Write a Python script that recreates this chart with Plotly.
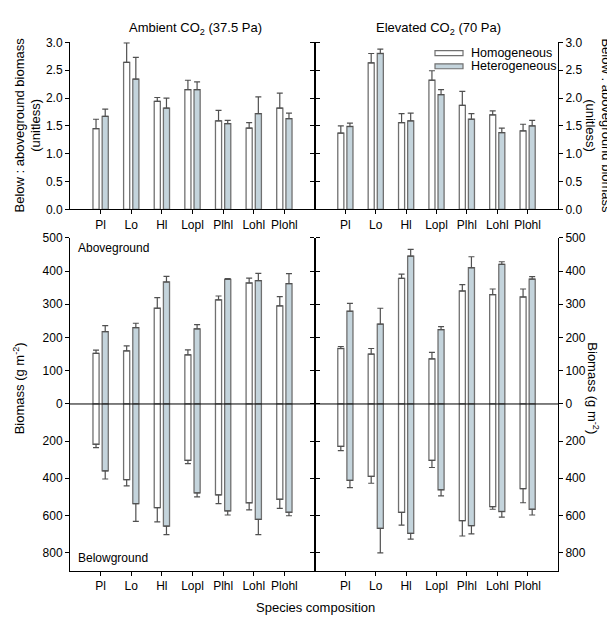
import plotly.graph_objects as go

species = ["Pl", "Lo", "Hl", "Lopl", "Plhl", "Lohl", "Plohl"]

# below:aboveground ratio (mean, top of error bar)
ratio_amb_hom = [1.45, 2.64, 1.94, 2.15, 1.59, 1.46, 1.82]
ratio_amb_hom_err = [1.62, 2.99, 2.01, 2.32, 1.78, 1.56, 2.09]
ratio_amb_het = [1.67, 2.34, 1.82, 2.15, 1.54, 1.72, 1.63]
ratio_amb_het_err = [1.80, 2.73, 2.00, 2.29, 1.60, 2.02, 1.73]
ratio_elv_hom = [1.37, 2.63, 1.56, 2.32, 1.87, 1.70, 1.41]
ratio_elv_hom_err = [1.50, 2.80, 1.72, 2.49, 2.12, 1.77, 1.53]
ratio_elv_het = [1.49, 2.80, 1.59, 2.06, 1.62, 1.38, 1.50]
ratio_elv_het_err = [1.55, 2.88, 1.73, 2.15, 1.72, 1.46, 1.60]

# aboveground biomass (g m-2)
above_amb_hom = [152, 160, 288, 148, 313, 364, 295]
above_amb_hom_err = [162, 175, 320, 163, 325, 379, 323]
above_amb_het = [218, 230, 367, 226, 375, 371, 362]
above_amb_het_err = [236, 243, 384, 239, 377, 393, 392]
above_elv_hom = [167, 150, 378, 136, 340, 329, 322]
above_elv_hom_err = [173, 167, 391, 155, 359, 346, 346]
above_elv_het = [279, 240, 445, 224, 410, 420, 376]
above_elv_het_err = [303, 288, 465, 233, 443, 428, 383]

# belowground biomass (g m-2)
below_amb_hom = [217, 407, 558, 304, 490, 532, 513]
below_amb_hom_err = [235, 441, 635, 321, 537, 570, 562]
below_amb_het = [360, 537, 658, 479, 576, 621, 583]
below_amb_het_err = [404, 632, 704, 500, 598, 704, 602]
below_elv_hom = [228, 390, 584, 304, 628, 553, 456]
below_elv_hom_err = [251, 427, 653, 342, 711, 567, 532]
below_elv_het = [412, 670, 697, 462, 655, 579, 567]
below_elv_het_err = [451, 802, 728, 495, 700, 609, 598]

W, H = 615, 617
FONT = "Liberation Sans, Arial, sans-serif"
HOM_FILL = "white"
HET_FILL = "#c4d4dc"
EDGE = "#707070"
ERR = "#505050"


def px(x):
    return x / W


def py(y):
    return 1 - y / H


xs = list(range(len(species)))
fig = go.Figure()


def add_pair(xa, ya, hom, hom_err, het, het_err):
    for vals, errs, fill, off in [(hom, hom_err, HOM_FILL, -0.25),
                                  (het, het_err, HET_FILL, 0.05)]:
        fig.add_trace(go.Bar(
            x=xs, y=vals, xaxis=xa, yaxis=ya, offset=off, width=0.2,
            marker=dict(color=fill, line=dict(color=EDGE, width=1.3)),
            error_y=dict(type="data", symmetric=False,
                         array=[e - v for v, e in zip(vals, errs)],
                         arrayminus=[0] * len(vals),
                         color=ERR, thickness=1.2, width=3),
            showlegend=False, hoverinfo="skip"))


add_pair("x", "y", ratio_amb_hom, ratio_amb_hom_err, ratio_amb_het, ratio_amb_het_err)
add_pair("x2", "y2", ratio_elv_hom, ratio_elv_hom_err, ratio_elv_het, ratio_elv_het_err)
add_pair("x3", "y3", above_amb_hom, above_amb_hom_err, above_amb_het, above_amb_het_err)
add_pair("x4", "y4", below_amb_hom, below_amb_hom_err, below_amb_het, below_amb_het_err)
add_pair("x5", "y5", above_elv_hom, above_elv_hom_err, above_elv_het, above_elv_het_err)
add_pair("x6", "y6", below_elv_hom, below_elv_hom_err, below_elv_het, below_elv_het_err)

left_dom = [px(62), px(307)]
right_dom = [px(307), px(550)]
top_dom = [py(199), py(28)]
above_dom = [py(398), py(228)]
below_dom = [py(569), py(398)]

tickfont = dict(family=FONT, size=12, color="black")


def xaxis(dom, anchor, show):
    d = dict(domain=dom, anchor=anchor, range=[-1, 7], tickvals=xs,
             ticktext=species, tickfont=tickfont, showgrid=False,
             zeroline=False, fixedrange=True)
    if show:
        d.update(showline=True, linecolor="black", linewidth=1,
                 ticks="outside", ticklen=4, tickcolor="black")
    else:
        d.update(showline=False, showticklabels=False, ticks="")
    return d


def yaxis(dom, anchor, side, rng, tickvals, ticktext=None):
    d = dict(domain=dom, anchor=anchor, side=side, range=rng,
             tickvals=tickvals, tickfont=tickfont, showgrid=False,
             zeroline=False, showline=True, linecolor="black", linewidth=1,
             mirror="ticks", ticks="outside", ticklen=4, tickcolor="black",
             fixedrange=True)
    if ticktext is not None:
        d["ticktext"] = ticktext
    return d


ratio_ticks = [0, 0.5, 1, 1.5, 2, 2.5, 3]
ratio_text = ["0.0", "0.5", "1.0", "1.5", "2.0", "2.5", "3.0"]
above_ticks = [0, 100, 200, 300, 400, 500]
below_ticks = [200, 400, 600, 800]

fig.update_layout(
    width=W, height=H, margin=dict(l=0, r=0, t=0, b=0),
    plot_bgcolor="white", paper_bgcolor="white", barmode="overlay",
    font=dict(family=FONT, size=13, color="black"),
    xaxis=xaxis(left_dom, "y", True),
    yaxis=yaxis(top_dom, "x", "left", [0, 3], ratio_ticks, ratio_text),
    xaxis2=xaxis(right_dom, "y2", True),
    yaxis2=yaxis(top_dom, "x2", "right", [0, 3], ratio_ticks, ratio_text),
    xaxis3=xaxis(left_dom, "y3", False),
    yaxis3=yaxis(above_dom, "x3", "left", [0, 500], above_ticks),
    xaxis4=xaxis(left_dom, "y4", True),
    yaxis4=yaxis(below_dom, "x4", "left", [900, 0], below_ticks),
    xaxis5=xaxis(right_dom, "y5", False),
    yaxis5=yaxis(above_dom, "x5", "right", [0, 500], above_ticks),
    xaxis6=xaxis(right_dom, "y6", True),
    yaxis6=yaxis(below_dom, "x6", "right", [900, 0], below_ticks),
)

# zero line across the biomass panels
fig.add_shape(type="line", xref="paper", yref="paper", x0=px(62), x1=px(550),
              y0=py(398), y1=py(398), line=dict(color="black", width=1))

# legend drawn by hand (wide flat swatches)
for i, (name, fill) in enumerate([("Homogeneous", HOM_FILL), ("Heterogeneous", HET_FILL)]):
    yc = 39 + i * 13.5
    fig.add_shape(type="rect", xref="paper", yref="paper",
                  x0=px(427), x1=px(455), y0=py(yc + 2.5), y1=py(yc - 2.5),
                  fillcolor=fill, line=dict(color=EDGE, width=1.2))
    fig.add_annotation(text=name, xref="paper", yref="paper", x=px(461), y=py(yc),
                       xanchor="left", yanchor="middle", showarrow=False,
                       font=dict(family=FONT, size=12.5))

ann = [
    ("Ambient CO<sub>2</sub> (37.5 Pa)", 187, 14, 0),
    ("Elevated CO<sub>2</sub> (70 Pa)", 430, 14, 0),
    ("Below : aboveground biomass<br>(unitless)", 20, 113, -90),
    ("Below : aboveground biomass<br>(unitless)", 590, 113, 90),
    ("Biomass (g m<sup>-2</sup>)", 11, 382, -90),
    ("Biomass (g m<sup>-2</sup>)", 585, 382, 90),
    ("Species composition", 307, 606, 0),
]
for text, x, y, ang in ann:
    fig.add_annotation(text=text, xref="paper", yref="paper", x=px(x), y=py(y),
                       xanchor="center", yanchor="middle", textangle=ang,
                       showarrow=False, font=dict(family=FONT, size=13))

fig.add_annotation(text="Aboveground", xref="paper", yref="paper", x=px(68), y=py(238),
                   xanchor="left", yanchor="middle", showarrow=False,
                   font=dict(family=FONT, size=12))
fig.add_annotation(text="Belowground", xref="paper", yref="paper", x=px(68), y=py(556),
                   xanchor="left", yanchor="middle", showarrow=False,
                   font=dict(family=FONT, size=12))

fig.write_html("out.html")
